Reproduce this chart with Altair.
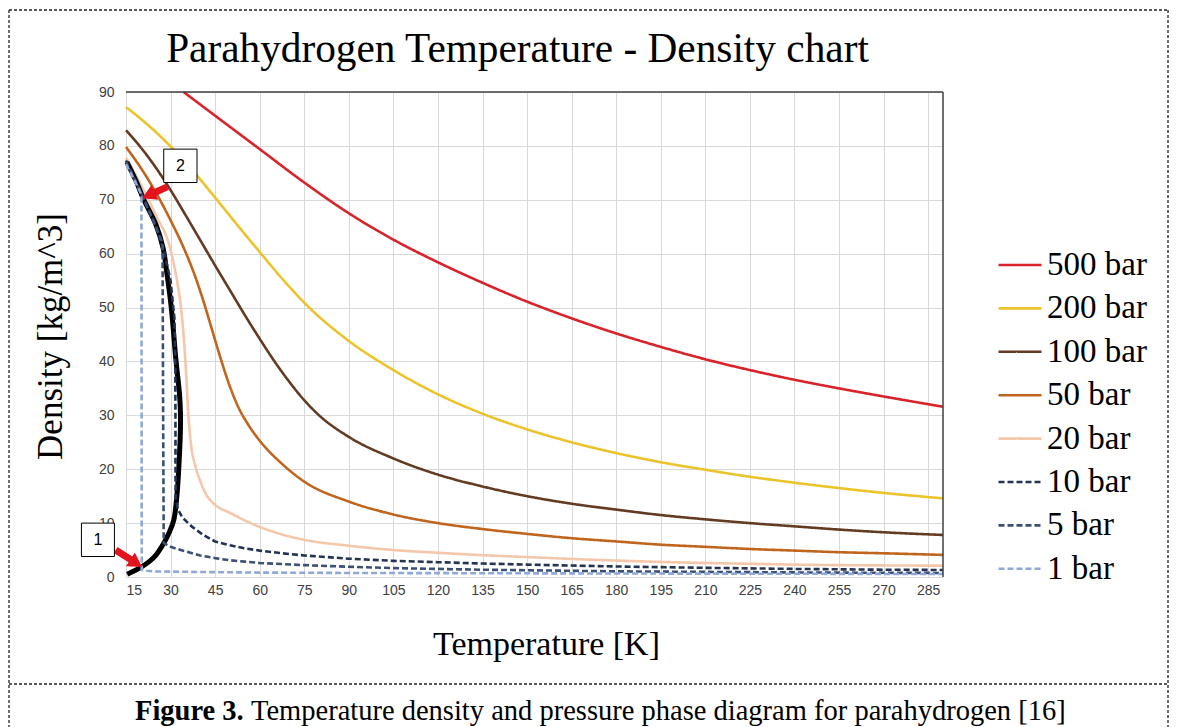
import altair as alt
import pandas as pd

# ---------------- data ----------------
SERIES = ["500 bar", "200 bar", "100 bar", "50 bar", "20 bar", "10 bar", "5 bar", "1 bar"]
COLORS = ["#D8232A", "#EBC32B", "#633B22", "#C0651E", "#F4C7AB", "#243352", "#3C4F74", "#8FA8D8"]
DASHES = [[1, 0], [1, 0], [1, 0], [1, 0], [1, 0], [6, 3], [6, 3], [6, 3]]

T_500 = [34.4, 45, 60, 75, 90, 105, 120, 135, 150, 165, 180, 195, 210, 225, 240, 255, 270, 290]
RHO_500 = [90.0, 85.6, 79.4, 73.2, 67.5, 62.6, 58.4, 54.6, 51.1, 48.0, 45.2, 42.7, 40.4, 38.4, 36.6, 35.0, 33.5, 31.6]

T_200 = [15, 20, 25, 30, 37.5, 45, 52.5, 60, 67.5, 75, 90, 105, 120, 135, 150, 165, 180, 195, 210, 225, 240, 255, 270, 290]
RHO_200 = [87.2, 85.0, 82.6, 79.9, 75.4, 70.4, 65.3, 60.3, 55.4, 50.9, 43.8, 38.4, 33.9, 30.3, 27.4, 25.0, 23.0, 21.3, 19.9, 18.6, 17.5, 16.5, 15.6, 14.6]

T_100 = [15, 20, 25, 30, 35, 40, 45, 50, 55, 60, 65, 70, 75, 80, 90, 105, 120, 135, 150, 165, 180, 195, 210, 225, 240, 255, 270, 290]
RHO_100 = [82.9, 79.7, 76.0, 71.8, 67.2, 62.5, 57.8, 53.2, 48.6, 44.2, 40.0, 36.2, 32.8, 30.0, 26.0, 22.0, 19.0, 16.8, 15.0, 13.6, 12.5, 11.5, 10.7, 10.0, 9.4, 8.8, 8.3, 7.8]

T_50 = [15, 20, 25, 30, 34, 38, 41, 44, 47, 50, 53, 56, 60, 67.5, 75, 90, 105, 120, 135, 150, 165, 180, 195, 210, 225, 240, 255, 270, 290]
RHO_50 = [79.8, 75.9, 71.4, 66.2, 61.6, 56.2, 51.3, 45.8, 40.3, 35.3, 31.3, 28.4, 25.3, 21.0, 17.7, 14.0, 11.6, 10.0, 8.9, 8.0, 7.2, 6.6, 6.0, 5.6, 5.2, 4.9, 4.6, 4.4, 4.1]

T_20 = [15, 20, 25, 30, 32, 33.5, 34.5, 35.2, 36.0, 36.8, 38.4, 40, 41.7, 45, 50, 55, 60, 67.5, 75, 90, 105, 120, 135, 150, 165, 180, 195, 210, 225, 240, 255, 270, 290]
RHO_20 = [77.8, 72.8, 67.2, 60.7, 55.5, 50.0, 44.0, 38.0, 30.0, 25.0, 20.5, 17.8, 15.6, 13.4, 11.9, 10.5, 9.3, 7.9, 6.9, 5.8, 5.0, 4.5, 4.05, 3.7, 3.35, 3.05, 2.8, 2.6, 2.45, 2.3, 2.2, 2.15, 2.1]

T_10 = [15, 20, 25, 28, 30, 31.3, 31.6, 31.7, 32.5, 34, 37.3, 41, 45, 50, 55, 60, 67.5, 75, 90, 105, 120, 135, 150, 180, 210, 240, 270, 290]
RHO_10 = [77.3, 71.5, 65.3, 60.0, 55.0, 48.0, 40.0, 14.5, 12.5, 11.0, 9.3, 7.8, 6.6, 5.9, 5.3, 4.9, 4.4, 4.0, 3.4, 3.0, 2.75, 2.5, 2.3, 1.95, 1.7, 1.5, 1.35, 1.3]

T_5 = [15, 20, 25, 27.3, 27.5, 27.7, 30, 34, 40, 45, 50, 55, 60, 75, 90, 105, 120, 135, 150, 180, 210, 240, 270, 290]
RHO_5 = [77.0, 71.3, 65.0, 62.0, 30.0, 6.3, 5.6, 4.9, 4.0, 3.5, 3.1, 2.85, 2.6, 2.2, 1.9, 1.65, 1.5, 1.35, 1.25, 1.05, 0.95, 0.85, 0.78, 0.75]

T_1 = [15, 17.5, 20.2, 20.3, 22, 25, 30, 45, 60, 90, 135, 180, 240, 290]
RHO_1 = [76.6, 74.0, 71.0, 1.3, 1.15, 1.05, 1.0, 0.9, 0.82, 0.75, 0.7, 0.65, 0.6, 0.55]

# saturation dome (vapour branch up, then liquid branch back down to 15 K)
T_SAT = [15.4, 18, 20, 22.7, 25, 27.7, 29.5, 31.1, 32.2, 32.9, 33.3, 33.3, 33.0, 31.8, 30.2, 28.6, 27.5, 25, 23, 21, 18.2, 15.3]
RHO_SAT = [0.5, 1.2, 1.8, 2.8, 4.0, 6.25, 8.2, 10.6, 15.5, 21.7, 27.0, 31.0, 34.0, 40.3, 50.2, 57.0, 61.0, 65.5, 67.8, 70.0, 73.7, 77.0]

# annotations: boxed labels and red arrows (data coordinates)
ANN_LABELS = ["1", "2"]
ANN_T = [0.0, 27.7]
ANN_T2 = [11.1, 38.9]
ANN_RHO = [3.8, 73.2]
ANN_RHO2 = [10.0, 79.4]
ARROW_T_TAIL = [11.5, 28.9]
ARROW_RHO_TAIL = [5.0, 72.4]
ARROW_T_HEAD = [17.8, 23.3]
ARROW_RHO_HEAD = [2.8, 71.0]
ARROW_ANGLE = [123, 245]

X_TICKS = list(range(15, 290, 15))
Y_TICKS = list(range(0, 91, 10))

TITLE = "Parahydrogen Temperature - Density chart"
X_TITLE = "Temperature [K]"
Y_TITLE = "Density [kg/m^3]"
CAPTION_BOLD = "Figure 3."
CAPTION_TEXT = "Temperature density and pressure phase diagram for parahydrogen [16]"

# ---------------- build tables ----------------
series_data = {
    "500 bar": (T_500, RHO_500), "200 bar": (T_200, RHO_200), "100 bar": (T_100, RHO_100),
    "50 bar": (T_50, RHO_50), "20 bar": (T_20, RHO_20), "10 bar": (T_10, RHO_10),
    "5 bar": (T_5, RHO_5), "1 bar": (T_1, RHO_1),
}
rows = []
for name, (ts, rs) in series_data.items():
    for i, (t, r) in enumerate(zip(ts, rs)):
        rows.append({"series": name, "T": t, "rho": r, "i": i})
df = pd.DataFrame(rows)
solid_df = df[df.series.isin(SERIES[:5])]
dash_df = df[df.series.isin(SERIES[5:])]
sat_df = pd.DataFrame({"T": T_SAT, "rho": RHO_SAT, "i": range(len(T_SAT))})
ann_df = pd.DataFrame({"label": ANN_LABELS, "T": ANN_T, "T2": ANN_T2, "rho": ANN_RHO, "rho2": ANN_RHO2})
ann_df["Tc"] = (ann_df["T"] + ann_df["T2"]) / 2
ann_df["rhoc"] = (ann_df["rho"] + ann_df["rho2"]) / 2
arr_df = pd.DataFrame({"T": ARROW_T_TAIL, "rho": ARROW_RHO_TAIL, "T2": ARROW_T_HEAD,
                       "rho2": ARROW_RHO_HEAD, "angle": ARROW_ANGLE})
one = pd.DataFrame({"a": [0]})

SERIF = "Liberation Serif"
xs = alt.Scale(domain=[15, 290], nice=False, zero=False)
ys = alt.Scale(domain=[0, 90], nice=False, zero=False)
xaxis = alt.Axis(values=X_TICKS, title=X_TITLE, titleFont=SERIF, titleFontSize=34,
                 titleFontWeight="normal", titleColor="black", titleX=420, titleY=77,
                 titleBaseline="alphabetic", labelPadding=6)
yaxis = alt.Axis(values=Y_TICKS, title=Y_TITLE, titleFont=SERIF, titleFontSize=35,
                 titleFontWeight="normal", titleColor="black", titleX=-65, titleY=244,
                 titleBaseline="alphabetic", titleAngle=270, labelPadding=12)


def X(f="T"):
    return alt.X(f"{f}:Q", scale=xs, axis=xaxis, title=X_TITLE)


def Y(f="rho"):
    return alt.Y(f"{f}:Q", scale=ys, axis=yaxis, title=Y_TITLE)


color = alt.Color("series:N", scale=alt.Scale(domain=SERIES, range=COLORS), title=None)
dash = alt.StrokeDash("series:N", scale=alt.Scale(domain=SERIES, range=DASHES), title=None)

solid = alt.Chart(solid_df).mark_line(strokeWidth=2.6, interpolate="monotone").encode(
    x=X(), y=Y(), color=color, strokeDash=dash, order="i:Q")
sat = alt.Chart(sat_df).mark_line(strokeWidth=5, color="black", interpolate="catmull-rom").encode(
    x=X(), y=Y(), order="i:Q")
dashed = alt.Chart(dash_df).mark_line(strokeWidth=2.6).encode(
    x=X(), y=Y(), color=color, strokeDash=dash, order="i:Q")

# plot frame (top and right)
frame_top = alt.Chart(one).mark_rule(color="#404040", strokeWidth=1.5).encode(
    x=alt.value(0), x2=alt.value(817), y=alt.value(0))
frame_right = alt.Chart(one).mark_rule(color="#404040", strokeWidth=1.5).encode(
    x=alt.value(817), y=alt.value(0), y2=alt.value(485))

boxes = alt.Chart(ann_df).mark_rect(fill="white", stroke="black", strokeWidth=1).encode(
    x=X("T"), x2="T2:Q", y=Y("rho"), y2="rho2:Q")
box_text = alt.Chart(ann_df).mark_text(font="Liberation Sans", fontSize=16, color="black").encode(
    x=X("Tc"), y=Y("rhoc"), text="label:N")
shafts = alt.Chart(arr_df).mark_rule(color="#E3141C", strokeWidth=7).encode(
    x=X("T"), x2="T2:Q", y=Y("rho"), y2="rho2:Q")
heads = alt.Chart(arr_df).mark_point(shape="triangle", filled=True, color="#E3141C",
                                     size=260, opacity=1).encode(
    x=X("T2"), y=Y("rho2"), angle=alt.Angle("angle:Q", scale=None))

# chart title
title = alt.Chart(one).mark_text(font=SERIF, fontSize=41.3, align="center", baseline="alphabetic",
                                 color="black").encode(
    x=alt.value(391.5), y=alt.value(-30), text=alt.value(TITLE))

# figure decorations: dashed frame and separator, caption
dcol = "#222222"
border_top = alt.Chart(one).mark_rule(color=dcol, strokeDash=[3, 2], strokeWidth=1.3).encode(
    x=alt.value(-117), x2=alt.value(1042), y=alt.value(-82))
border_mid = alt.Chart(one).mark_rule(color=dcol, strokeDash=[3, 2], strokeWidth=1.3).encode(
    x=alt.value(-117), x2=alt.value(1042), y=alt.value(592))
border_left = alt.Chart(one).mark_rule(color=dcol, strokeDash=[3, 2], strokeWidth=1.3).encode(
    x=alt.value(-117), y=alt.value(-82), y2=alt.value(650))
border_right = alt.Chart(one).mark_rule(color=dcol, strokeDash=[3, 2], strokeWidth=1.3).encode(
    x=alt.value(1042), y=alt.value(-82), y2=alt.value(650))
cap1 = alt.Chart(one).mark_text(font=SERIF, fontSize=28.5, fontWeight="bold", align="left",
                                baseline="alphabetic", color="black").encode(
    x=alt.value(9), y=alt.value(628), text=alt.value(CAPTION_BOLD))
cap2 = alt.Chart(one).mark_text(font=SERIF, fontSize=28.5, align="left",
                                baseline="alphabetic", color="black").encode(
    x=alt.value(125), y=alt.value(628), text=alt.value(CAPTION_TEXT))

chart = alt.layer(
    solid, sat, dashed, frame_top, frame_right, shafts, heads, boxes, box_text, title,
    border_top, border_mid, border_left, border_right, cap1, cap2,
).properties(
    width=817, height=485, autosize="none",
    padding={"left": 118, "top": 84, "right": 227, "bottom": 150},
).configure_view(stroke=None).configure_axis(
    grid=True, gridColor="#d9d9d9", gridWidth=1, domain=False, ticks=False,
    labelFont="Liberation Sans Narrow, Liberation Sans, sans-serif", labelFontSize=14,
    labelColor="#404040",
).configure_legend(
    orient="none", legendX=871, legendY=150, symbolType="stroke", symbolSize=1849,
    symbolStrokeWidth=2.6, labelFont=SERIF, labelFontSize=33, labelColor="black",
    labelOffset=4, rowPadding=3.4, padding=0,
)

chart.save("out.html", embed_options={"renderer": "svg", "actions": False})
